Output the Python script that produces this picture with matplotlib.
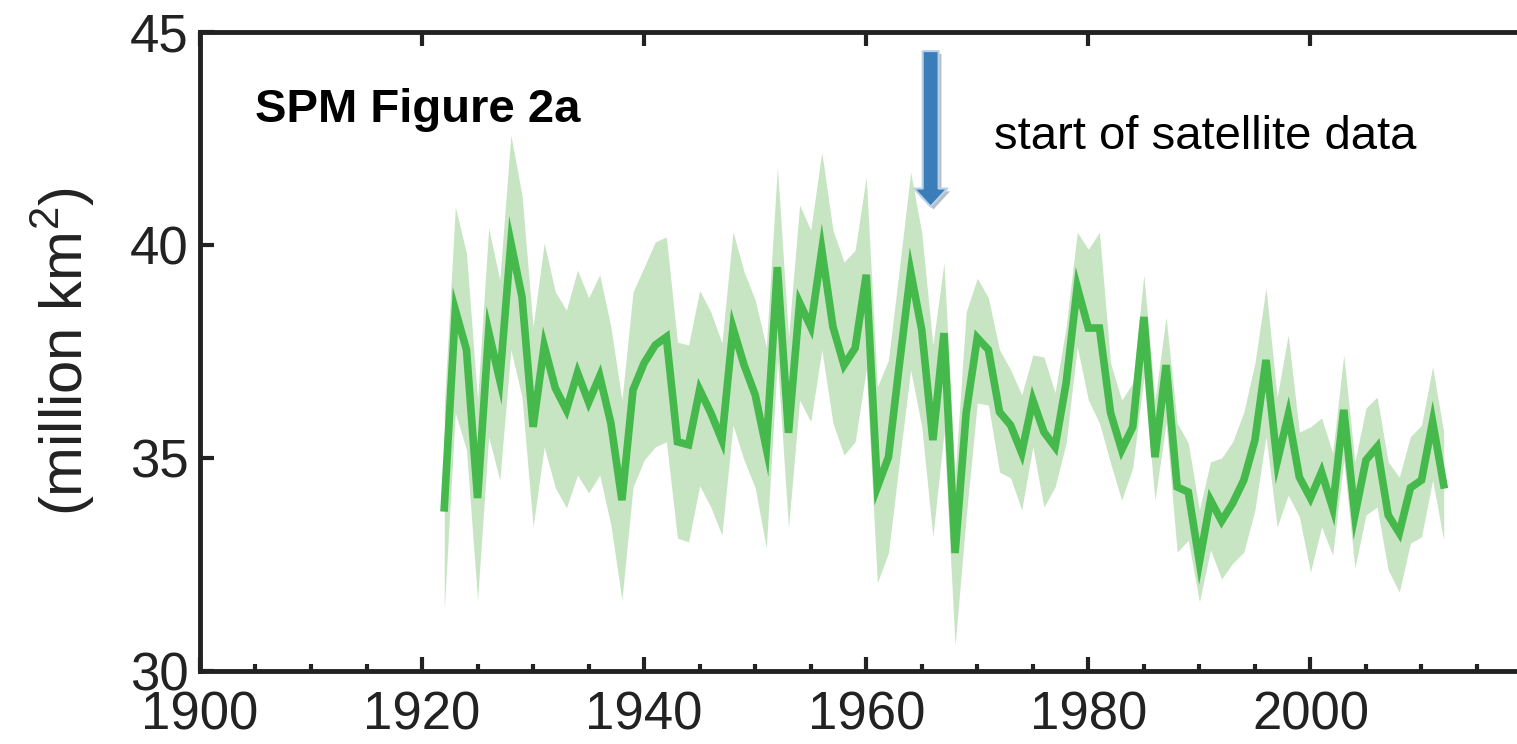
import numpy as np
import matplotlib.pyplot as plt
import matplotlib.patheffects as pe
from matplotlib.ticker import MultipleLocator

plt.rcParams['font.family'] = ['Liberation Sans', 'DejaVu Sans']
plt.rcParams['mathtext.fontset'] = 'custom'
plt.rcParams['mathtext.rm'] = 'Liberation Sans'

# spring snow cover extent, northern hemisphere (million km2)
years = np.arange(1922, 2013)

extent = [
    33.83, 38.47, 37.54, 34.06, 37.96, 36.83, 40.05, 38.78, 35.73, 37.63,  # 1922-1931
    36.64, 36.13, 37.00, 36.31, 36.92, 35.82, 34.01, 36.60, 37.23, 37.65,  # 1932-1941
    37.84, 35.38, 35.31, 36.60, 36.06, 35.42, 38.05, 37.18, 36.48, 35.23,  # 1942-1951
    39.48, 35.59, 38.64, 38.08, 39.88, 38.08, 37.18, 37.58, 39.30, 34.32,  # 1952-1961
    35.02, 37.23, 39.37, 38.00, 35.42, 37.93, 32.77, 36.06, 37.82, 37.54,  # 1962-1971
    36.08, 35.77, 35.12, 36.36, 35.61, 35.26, 36.76, 39.01, 38.05, 38.05,  # 1972-1981
    36.06, 35.19, 35.73, 38.31, 35.02, 37.18, 34.32, 34.20, 32.56, 34.01,  # 1982-1991
    33.52, 33.94, 34.48, 35.42, 37.30, 34.91, 36.01, 34.55, 34.06, 34.67,  # 1992-2001
    33.83, 36.13, 33.66, 34.95, 35.26, 33.66, 33.24, 34.30, 34.48, 35.85,  # 2002-2011
    34.37,                                                                 # 2012
]

upper = [
    36.20, 40.89, 39.81, 36.36, 40.40, 39.18, 42.58, 41.17, 38.08, 40.05,
    38.90, 38.47, 39.41, 38.76, 39.30, 38.08, 36.36, 38.90, 39.48, 40.07,
    40.19, 37.72, 37.65, 38.93, 38.43, 37.70, 40.31, 39.37, 38.71, 37.60,
    41.83, 37.84, 40.94, 40.35, 42.18, 40.35, 39.60, 39.88, 41.60, 36.67,
    37.30, 39.48, 41.71, 40.28, 37.65, 39.58, 34.60, 38.43, 39.22, 38.76,
    37.54, 37.07, 36.48, 37.42, 37.37, 36.53, 38.08, 40.30, 39.90, 40.30,
    37.23, 36.36, 36.76, 39.30, 36.36, 38.31, 35.82, 35.35, 33.78, 34.91,
    35.00, 35.38, 36.08, 37.23, 38.99, 36.43, 37.89, 35.61, 35.73, 35.94,
    35.12, 37.42, 34.91, 36.17, 36.43, 34.91, 34.55, 35.50, 35.77, 37.14,
    35.61,
]

lower = [
    31.43, 36.06, 35.19, 31.67, 35.50, 34.48, 37.54, 36.43, 33.38, 35.26,
    34.30, 33.83, 34.60, 34.18, 34.60, 33.43, 31.67, 34.32, 34.95, 35.26,
    35.38, 33.12, 33.03, 34.35, 33.85, 33.19, 35.77, 34.95, 34.30, 32.89,
    37.30, 33.36, 36.36, 35.85, 37.54, 35.82, 35.07, 35.38, 37.07, 32.07,
    32.77, 34.95, 37.07, 35.73, 33.15, 35.60, 30.60, 33.62, 36.29, 36.24,
    34.67, 34.53, 33.78, 35.26, 33.85, 34.32, 35.35, 37.61, 36.36, 35.82,
    34.88, 34.01, 34.77, 36.90, 34.01, 35.82, 32.79, 33.07, 31.62, 32.84,
    32.16, 32.53, 32.79, 33.78, 35.50, 33.38, 34.13, 33.62, 32.32, 33.38,
    32.72, 34.95, 32.42, 33.66, 33.85, 32.37, 31.85, 33.00, 33.15, 34.48,
    33.07,
]

x_ticks = [1900, 1920, 1940, 1960, 1980, 2000]
y_ticks = [30, 35, 40, 45]
satellite_year = 1965.8

line_green = '#45b94c'
band_green = '#c7e5c3'

fig = plt.figure(figsize=(15.17, 7.44), dpi=100)
ax = fig.add_axes([0.1318, 0.0981, 0.8682, 0.859])

ax.fill_between(years, lower, upper, color=band_green, lw=0)
ax.plot(years, extent, color=line_green, lw=5.5, solid_joinstyle='miter')

ax.set_xlim(1900, 2018.6)
ax.set_ylim(30, 45)
ax.set_xticks(x_ticks)
ax.xaxis.set_minor_locator(MultipleLocator(5))
ax.set_yticks(y_ticks)

ax.tick_params(axis='both', which='major', direction='in', length=10, width=3,
               labelsize=38, color='#222222', labelcolor='#222222')
ax.tick_params(axis='x', which='major', top=True, pad=14)
ax.tick_params(axis='x', which='minor', direction='in', length=5, width=3,
               color='#222222', top=False)
ax.tick_params(axis='y', which='major', pad=8)

for side in ['left', 'bottom', 'top']:
    ax.spines[side].set_linewidth(3.5)
    ax.spines[side].set_color('#222222')
ax.spines['right'].set_visible(False)

ax.set_ylabel('(million km$^2$)', fontsize=43, color='#222222', labelpad=24)

ax.text(0.042, 0.878, 'SPM Figure 2a', transform=ax.transAxes,
        fontsize=34, fontweight='bold', va='center', ha='left')
ax.text(0.603, 0.835, 'start of satellite data', transform=ax.transAxes,
        fontsize=34, va='center', ha='left')

ax.annotate('', xy=(satellite_year, 40.9), xytext=(satellite_year, 44.55),
            arrowprops=dict(arrowstyle='simple,head_length=1.3,head_width=2.4,tail_width=1.15',
                            mutation_scale=10, fc='#3b7db8', ec='#b9d2ec', lw=1.5,
                            shrinkA=0, shrinkB=0,
                            path_effects=[pe.SimplePatchShadow(offset=(2, -2), alpha=0.3),
                                          pe.Normal()]))

fig.savefig('out.png', dpi=100)
